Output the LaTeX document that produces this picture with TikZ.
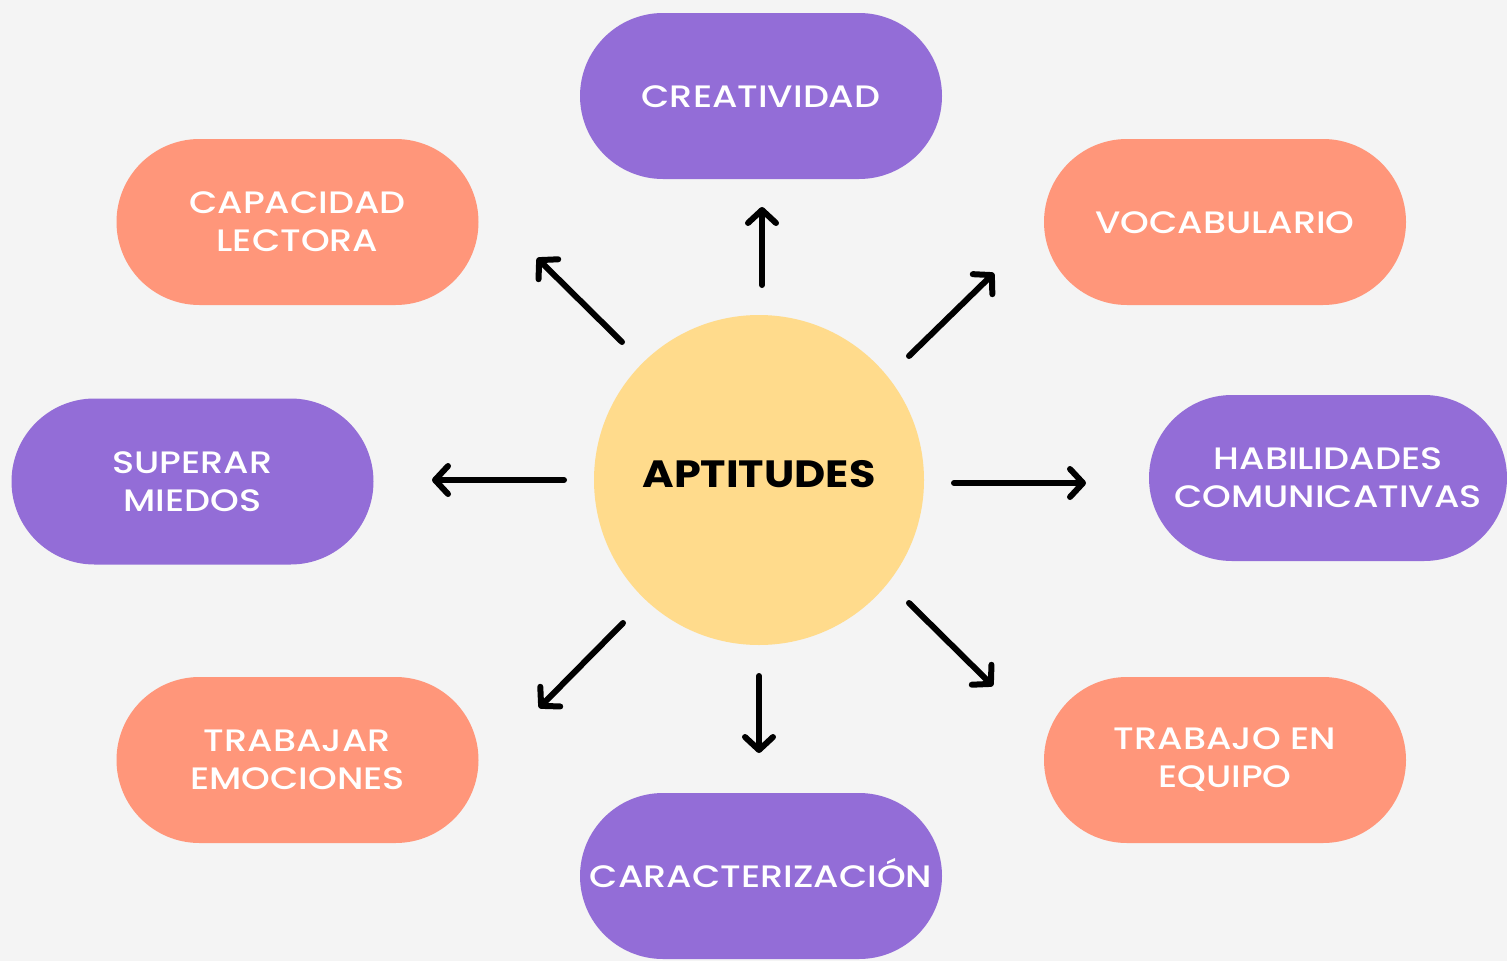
\documentclass[tikz,border=0pt]{standalone}
\usepackage{fontspec}
\setmainfont{Poppins}
\newfontfamily\labelfont{Poppins}[UprightFont=* Medium, FakeStretch=1.18]
\newfontfamily\hubfont{Poppins}[UprightFont=* Bold, FakeStretch=1.13]
\usetikzlibrary{arrows.meta}
\definecolor{bg}{HTML}{F4F4F4}
\definecolor{lila}{HTML}{936DD7}
\definecolor{salmon}{HTML}{FF967A}
\definecolor{sun}{HTML}{FFDB8C}
\tikzset{
  pill/.style={rounded corners=83pt, minimum width=362pt, minimum height=166pt,
    inner sep=0pt, text=white, align=center, font=\labelfont\fontsize{31}{38}\selectfont},
  pillp/.style={pill, fill=lila},
  pills/.style={pill, fill=salmon},
  single/.style={text height=22pt, text depth=0pt},
  hub/.style={circle, fill=sun, minimum size=330pt, inner sep=0pt,
    text height=26pt, text depth=12pt, font=\hubfont\fontsize{38}{44}\selectfont},
  arr/.style={line width=6pt, line cap=round,
    -{Straight Barb[length=13pt, width=28pt, line cap=round, line join=round]}}
}
\begin{document}
\begin{tikzpicture}[x=1pt, y=-1pt]
\fill[bg] (0,0) rectangle (1507,961);
\useasboundingbox (0,0) rectangle (1507,961);

\node[hub] (c) at (759,480) {APTITUDES};

\node[pillp, single] (cre) at (761,96) {CREATIVIDAD};
\node[pills] (cap) at (297.5,222) {CAPACIDAD\\LECTORA};
\node[pills, single] (voc) at (1225,222) {VOCABULARIO};
\node[pillp] (sup) at (192.5,481.5) {SUPERAR\\MIEDOS};
\node[pillp, minimum width=358pt] (hab) at (1328,478) {HABILIDADES\\COMUNICATIVAS};
\node[pills] (tra) at (297.5,760) {TRABAJAR\\EMOCIONES};
\node[pills] (equ) at (1225,760) {TRABAJO EN\\EQUIPO};
\node[pillp, single] (car) at (761,876) {CARACTERIZACIÓN};

\coordinate (a1s) at (762,285); \coordinate (a1e) at (762,207);
\coordinate (a2s) at (622,342); \coordinate (a2e) at (537,258);
\coordinate (a3s) at (909,356); \coordinate (a3e) at (994,273);
\coordinate (a4s) at (564,480); \coordinate (a4e) at (432,480);
\coordinate (a5s) at (954,483); \coordinate (a5e) at (1086,483);
\coordinate (a6s) at (623,623); \coordinate (a6e) at (539,708);
\coordinate (a7s) at (759,676); \coordinate (a7e) at (759,753);
\coordinate (a8s) at (909,603); \coordinate (a8e) at (993,686);

\draw[arr] (a1s) -- (a1e);
\draw[arr] (a2s) -- (a2e);
\draw[arr] (a3s) -- (a3e);
\draw[arr] (a4s) -- (a4e);
\draw[arr] (a5s) -- (a5e);
\draw[arr] (a6s) -- (a6e);
\draw[arr] (a7s) -- (a7e);
\draw[arr] (a8s) -- (a8e);
\end{tikzpicture}
\end{document}
